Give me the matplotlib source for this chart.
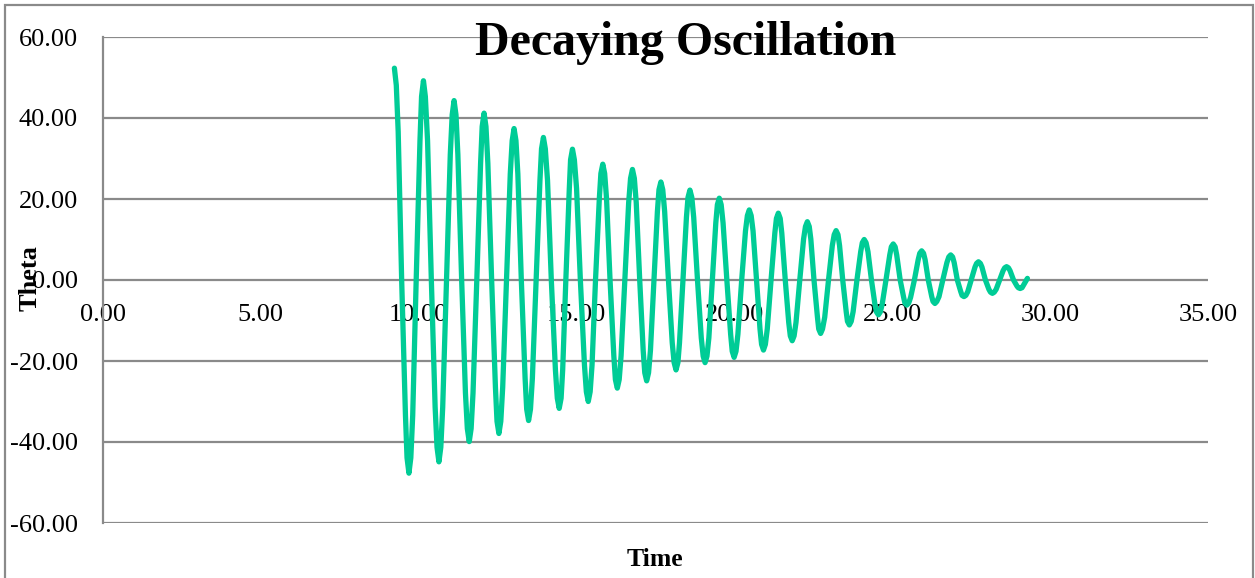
import numpy as np
import matplotlib
matplotlib.use("Agg")
import matplotlib.pyplot as plt
from matplotlib.patches import Rectangle

plt.rcParams['font.family'] = ['Liberation Serif', 'DejaVu Serif']

# peaks / troughs (time, theta)
ext_t = [9.23, 9.69, 10.15, 10.64, 11.12, 11.60, 12.07, 12.54, 13.02, 13.48,
         13.95, 14.45, 14.87, 15.37, 15.83, 16.29, 16.77, 17.22, 17.67, 18.15,
         18.59, 19.07, 19.52, 19.99, 20.47, 20.92, 21.39, 21.83, 22.31, 22.73,
         23.22, 23.64, 24.11, 24.56, 25.03, 25.46, 25.93, 26.35, 26.85, 27.27,
         27.73, 28.17, 28.62, 29.05, 29.28]
ext_v = [52.3, -47.7, 49.2, -44.9, 44.3, -39.9, 41.2, -37.9, 37.4, -34.7,
         35.2, -31.7, 32.3, -30.0, 28.6, -26.7, 27.3, -24.9, 24.2, -22.2,
         22.2, -20.4, 20.2, -19.1, 17.3, -17.3, 16.5, -15.0, 14.4, -13.2,
         12.2, -11.1, 10.0, -8.6, 8.9, -6.2, 7.2, -5.8, 6.2, -4.1,
         4.5, -3.3, 3.3, -2.1, 0.4]
# zero crossings
zero_t = [9.46, 9.92, 10.40, 10.88, 11.36, 11.84, 12.31, 12.78, 13.25, 13.72,
          14.20, 14.66, 15.12, 15.60, 16.06, 16.53, 17.00, 17.45, 17.91, 18.37,
          18.83, 19.30, 19.76, 20.23, 20.70, 21.16, 21.61, 22.07, 22.52, 22.98,
          23.43, 23.88, 24.34, 24.80, 25.25, 25.70, 26.14, 26.60, 27.06, 27.50,
          27.95, 28.40, 28.84]
# points on the shoulders of each swing
sh_t = [9.35, 9.58, 9.81, 10.04, 10.28, 10.52, 10.76, 11.00, 11.24, 11.48,
        11.72, 11.96, 12.19, 12.43, 12.66, 12.90, 13.14, 13.37, 13.60, 13.84,
        14.08, 14.33, 14.56, 14.77, 15.00, 15.25, 15.49, 15.72, 15.95, 16.18,
        16.41, 16.65, 16.89, 17.11, 17.34, 17.56, 17.79, 18.03, 18.26, 18.48,
        18.71, 18.95, 19.19, 19.41, 19.64, 19.88, 20.11, 20.35, 20.59, 20.81,
        21.04, 21.28, 21.50, 21.72, 21.95, 22.19, 22.42, 22.63, 22.86, 23.10,
        23.33, 23.54, 23.76, 24.00, 24.23, 24.45, 24.68, 24.92, 25.14, 25.36,
        25.58, 25.82, 26.04, 26.25, 26.48, 26.73, 26.96, 27.17, 27.39, 27.62,
        27.84, 28.06, 28.29, 28.51, 28.73, 28.95]
sh_v = [36.6, -33.4, -33.4, 34.4, 34.4, -31.4, -31.4, 31.0, 31.0, -27.9,
        -27.9, 28.8, 28.8, -26.5, -26.5, 26.2, 26.2, -24.3, -24.3, 24.6,
        24.6, -22.2, -22.2, 22.6, 22.6, -21.0, -21.0, 20.0, 20.0, -18.7,
        -18.7, 19.1, 19.1, -17.4, -17.4, 16.9, 16.9, -15.5, -15.5, 15.5,
        15.5, -14.3, -14.3, 14.1, 14.1, -13.4, -13.4, 12.1, 12.1, -12.1,
        -12.1, 11.6, 11.6, -10.5, -10.5, 10.1, 10.1, -9.2, -9.2, 8.5,
        8.5, -7.8, -7.8, 7.0, 7.0, -6.0, -6.0, 6.2, 6.2, -4.3,
        -4.3, 5.0, 5.0, -4.1, -4.1, 4.3, 4.3, -2.9, -2.9, 3.2,
        3.2, -2.3, -2.3, 2.3, 2.3, -1.5]
# points just either side of each crest
cr_t = [9.29, 9.63, 9.75, 10.09, 10.21, 10.58, 10.70, 11.06, 11.18, 11.54,
        11.66, 12.01, 12.13, 12.48, 12.60, 12.96, 13.08, 13.42, 13.54, 13.89,
        14.01, 14.39, 14.51, 14.81, 14.93, 15.31, 15.43, 15.77, 15.89, 16.23,
        16.35, 16.71, 16.83, 17.16, 17.28, 17.61, 17.73, 18.09, 18.21, 18.53,
        18.65, 19.01, 19.13, 19.46, 19.58, 19.93, 20.05, 20.41, 20.53, 20.86,
        20.98, 21.33, 21.45, 21.77, 21.89, 22.25, 22.37, 22.67, 22.79, 23.16,
        23.28, 23.58, 23.70, 24.05, 24.17, 24.50, 24.62, 24.97, 25.09, 25.40,
        25.52, 25.87, 25.99, 26.29, 26.41, 26.79, 26.91, 27.21, 27.33, 27.67,
        27.79, 28.11, 28.23, 28.56, 28.68, 28.99, 29.11]
cr_v = [48.1, -43.9, -43.9, 45.3, 45.3, -41.3, -41.3, 40.8, 40.8, -36.7,
        -36.7, 37.9, 37.9, -34.9, -34.9, 34.4, 34.4, -31.9, -31.9, 32.4,
        32.4, -29.2, -29.2, 29.7, 29.7, -27.6, -27.6, 26.3, 26.3, -24.6,
        -24.6, 25.1, 25.1, -22.9, -22.9, 22.3, 22.3, -20.4, -20.4, 20.4,
        20.4, -18.8, -18.8, 18.6, 18.6, -17.6, -17.6, 15.9, 15.9, -15.9,
        -15.9, 15.2, 15.2, -13.8, -13.8, 13.2, 13.2, -12.1, -12.1, 11.2,
        11.2, -10.2, -10.2, 9.2, 9.2, -7.9, -7.9, 8.2, 8.2, -5.7,
        -5.7, 6.6, 6.6, -5.3, -5.3, 5.7, 5.7, -3.8, -3.8, 4.1,
        4.1, -3.0, -3.0, 3.0, 3.0, -1.9, -1.9]

x_ticks = [0, 5, 10, 15, 20, 25, 30, 35]
y_ticks = [-60, -40, -20, 0, 20, 40, 60]

t = np.array(ext_t + zero_t + sh_t + cr_t)
v = np.array(ext_v + [0.0] * len(zero_t) + sh_v + cr_v)
order = np.argsort(t)
t, v = t[order], v[order]

fig = plt.figure(figsize=(12.55, 5.78), dpi=100)
ax = fig.add_axes([103 / 1255, 1 - 523 / 578, (1208 - 103) / 1255, (523 - 37) / 578])

grid_col = '#8a8a8a'
ax.plot(t, v, color='#00CC96', lw=3.8, solid_joinstyle='round', solid_capstyle='round', zorder=3)

ax.set_xlim(0, 35)
ax.set_ylim(-60, 60)
ax.set_xticks(x_ticks)
ax.set_yticks(y_ticks)
ax.set_xticklabels(['%.2f' % x for x in x_ticks])
ax.set_yticklabels(['%.2f' % y for y in y_ticks])
ax.tick_params(length=0, labelsize=19, colors='black')
ax.tick_params(axis='x', pad=17)
ax.tick_params(axis='y', pad=18)
ax.yaxis.grid(True, color=grid_col, lw=1.6)
ax.set_axisbelow(True)

ax.spines['bottom'].set_position(('data', 0))
ax.spines['bottom'].set_visible(False)
ax.spines['top'].set_visible(False)
ax.spines['right'].set_visible(False)
ax.spines['left'].set_color(grid_col)
ax.spines['left'].set_linewidth(1.6)

fig.text(686 / 1255, 1 - 43 / 578, 'Decaying Oscillation', fontsize=34.5,
         fontweight='bold', ha='center', va='center')
fig.text(655 / 1255, 1 - 560 / 578, 'Time', fontsize=18.5,
         fontweight='bold', ha='center', va='center')
fig.text(30 / 1255, 1 - 278 / 578, 'Theta', fontsize=19, fontweight='bold',
         ha='center', va='center', rotation=90)

# outer chart frame (bottom edge falls outside the picture)
fig.patches.append(Rectangle((5 / 1255, -0.05), 1248 / 1255, 1.05 - 5.5 / 578,
                             transform=fig.transFigure, fill=False,
                             edgecolor='#8a8a8a', lw=1.6))

fig.savefig('out.png', dpi=100)
